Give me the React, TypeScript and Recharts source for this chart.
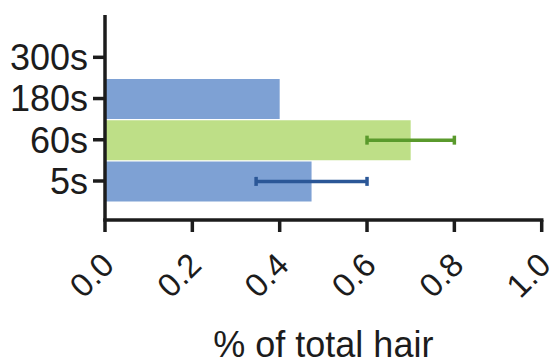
import { BarChart, Bar, XAxis, YAxis, ErrorBar, Label } from 'recharts';

// values
const categories = ['300s', '180s', '60s', '5s'];
const blueValues = [null, 0.4, null, 0.473];
const blueErrors = [null, null, null, 0.127];
const greenValues = [null, null, 0.7, null];
const greenErrors = [null, null, 0.1, null];
const xTicks = [0, 0.2, 0.4, 0.6, 0.8, 1.0];

const data = categories.map((name, i) => ({
  name,
  blue: blueValues[i],
  blueErr: blueErrors[i],
  green: greenValues[i],
  greenErr: greenErrors[i],
}));

const FONT = '"Liberation Sans", Arial, Helvetica, sans-serif';
const AXIS = '#1c1c1c';

function XTick({ x, y, payload }: any) {
  return (
    <g transform={`translate(${x + 11},${y + 35})`}>
      <text transform="rotate(-45)" textAnchor="end" fontSize={33} fontFamily={FONT} fill={AXIS}>
        {Number(payload.value).toFixed(1)}
      </text>
    </g>
  );
}

export default function App() {
  return (
    <div style={{ position: 'absolute', left: 0, top: 0, background: '#fff' }}>
      <BarChart
        width={552}
        height={361}
        data={data}
        layout="vertical"
        margin={{ top: 15, right: 10.3, left: 0, bottom: 0 }}
      >
        <XAxis
          type="number"
          domain={[0, 1]}
          ticks={xTicks}
          height={141}
          tickSize={12}
          tickMargin={0}
          interval={0}
          axisLine={{ stroke: AXIS, strokeWidth: 3.5, strokeLinecap: 'square' }}
          tickLine={{ stroke: AXIS, strokeWidth: 3.5 }}
          tick={<XTick />}
        >
          <Label
            value="% of total hair"
            position="insideBottom"
            offset={4}
            style={{ fontSize: 36, fontFamily: FONT, fill: AXIS }}
          />
        </XAxis>
        <YAxis
          type="category"
          dataKey="name"
          width={105}
          tickSize={12}
          tickMargin={5}
          interval={0}
          padding={{ top: 21.7, bottom: 18.4 }}
          axisLine={{ stroke: AXIS, strokeWidth: 3.5 }}
          tickLine={{ stroke: AXIS, strokeWidth: 3.5 }}
          tick={{ fontSize: 36, fontFamily: FONT, fill: AXIS }}
        />
        <Bar dataKey="blue" stackId="s" fill="#7ea1d4" barSize={40} isAnimationActive={false}>
          <ErrorBar dataKey="blueErr" direction="x" width={4.5} stroke="#2b5797" strokeWidth={3.5} />
        </Bar>
        <Bar dataKey="green" stackId="s" fill="#bedf87" barSize={40} isAnimationActive={false}>
          <ErrorBar dataKey="greenErr" direction="x" width={4.5} stroke="#5a9a2c" strokeWidth={3.5} />
        </Bar>
      </BarChart>
    </div>
  );
}
